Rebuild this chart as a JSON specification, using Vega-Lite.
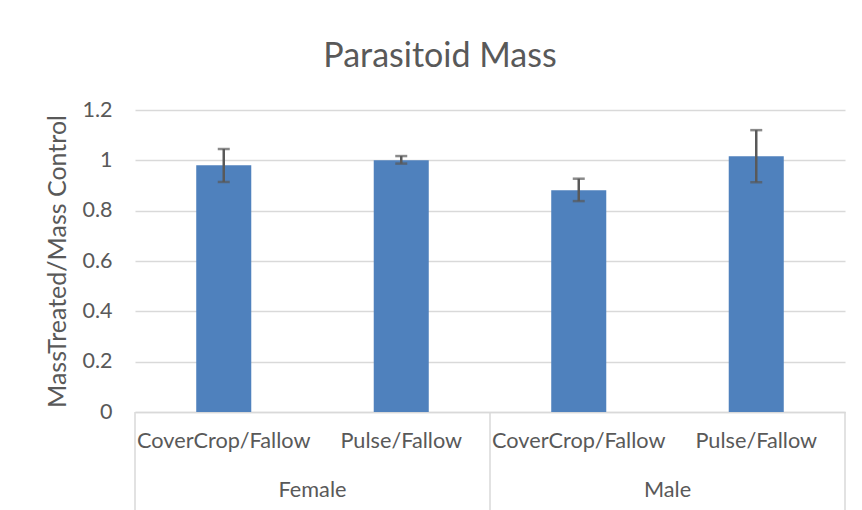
{
  "$schema": "https://vega.github.io/schema/vega-lite/v6.json",
  "width": 710,
  "height": 302,
  "autosize": {"type": "none"},
  "padding": {"left": 135, "top": 110, "right": 17, "bottom": 98},
  "background": "white",
  "title": {
    "text": "Parasitoid Mass",
    "anchor": "middle",
    "frame": "group",
    "dx": -50,
    "offset": 25,
    "fontSize": 34,
    "font": "Lato",
    "fontWeight": "normal",
    "color": "#595959"
  },
  "config": {
    "view": {"stroke": null},
    "font": "Lato"
  },
  "layer": [
    {
      "data": {
        "values": [
          {"key": "Female|CoverCrop/Fallow", "ratio": 0.98, "lo": 0.914, "hi": 1.045},
          {"key": "Female|Pulse/Fallow", "ratio": 1.0, "lo": 0.987, "hi": 1.017},
          {"key": "Male|CoverCrop/Fallow", "ratio": 0.881, "lo": 0.838, "hi": 0.927},
          {"key": "Male|Pulse/Fallow", "ratio": 1.016, "lo": 0.913, "hi": 1.12}
        ]
      },
      "layer": [
        {
          "mark": {"type": "bar", "color": "#4f81bd", "width": {"band": 0.31}},
          "encoding": {
            "x": {
              "field": "key",
              "type": "nominal",
              "sort": null,
              "scale": {
                "domain": ["Female|CoverCrop/Fallow", "Female|Pulse/Fallow", "Male|CoverCrop/Fallow", "Male|Pulse/Fallow"],
                "paddingInner": 0,
                "paddingOuter": 0
              },
              "axis": {
                "title": null,
                "labelExpr": "split(datum.label, '|')[1]",
                "labelAngle": 0,
                "ticks": false,
                "domainColor": "#d9d9d9",
                "domainWidth": 1.5,
                "labelFontSize": 21.7,
                "labelColor": "#595959",
                "labelPadding": 18,
                "labelFont": "Lato"
              }
            },
            "y": {
              "field": "ratio",
              "type": "quantitative",
              "scale": {"domain": [0, 1.2], "nice": false},
              "axis": {
                "title": "MassTreated/Mass Control",
                "titleFontSize": 25,
                "titleFontWeight": "normal",
                "titleColor": "#595959",
                "titleFont": "Lato",
                "titlePadding": 11,
                "values": [0, 0.2, 0.4, 0.6, 0.8, 1, 1.2],
                "labelExpr": "datum.value == 0 ? '0' : format(datum.value, '.1~f')",
                "domain": false,
                "ticks": false,
                "labelPadding": 23,
                "labelFontSize": 21.5,
                "labelColor": "#595959",
                "labelFont": "Lato",
                "gridColor": "#d9d9d9",
                "gridWidth": 1.5
              }
            }
          }
        },
        {
          "mark": {
            "type": "errorbar",
            "ticks": {"size": 12, "thickness": 2.5, "color": "#595959"},
            "rule": {"strokeWidth": 2.5, "color": "#595959"}
          },
          "encoding": {
            "x": {"field": "key", "type": "nominal", "sort": null},
            "y": {"field": "lo", "type": "quantitative", "title": "MassTreated/Mass Control"},
            "y2": {"field": "hi"}
          }
        }
      ]
    },
    {
      "data": {
        "values": [
          {"key": "Female|CoverCrop/Fallow"},
          {"key": "Male|CoverCrop/Fallow"}
        ]
      },
      "mark": {"type": "rule", "color": "#d9d9d9", "strokeWidth": 1.5},
      "encoding": {
        "x": {"field": "key", "type": "nominal", "bandPosition": 0},
        "y": {"datum": 0},
        "y2": {"datum": -0.4}
      }
    },
    {
      "data": {
        "values": [
          {"key": "Male|Pulse/Fallow"}
        ]
      },
      "mark": {"type": "rule", "color": "#d9d9d9", "strokeWidth": 1.5},
      "encoding": {
        "x": {"field": "key", "type": "nominal", "bandPosition": 1},
        "y": {"datum": 0},
        "y2": {"datum": -0.4}
      }
    },
    {
      "data": {
        "values": [
          {"group": "Female", "key": "Female|Pulse/Fallow"},
          {"group": "Male", "key": "Male|Pulse/Fallow"}
        ]
      },
      "mark": {"type": "text", "fontSize": 21.7, "color": "#595959", "baseline": "middle", "font": "Lato"},
      "encoding": {
        "x": {"field": "key", "type": "nominal", "bandPosition": 0},
        "y": {"datum": -0.31},
        "text": {"field": "group"}
      }
    }
  ]
}
